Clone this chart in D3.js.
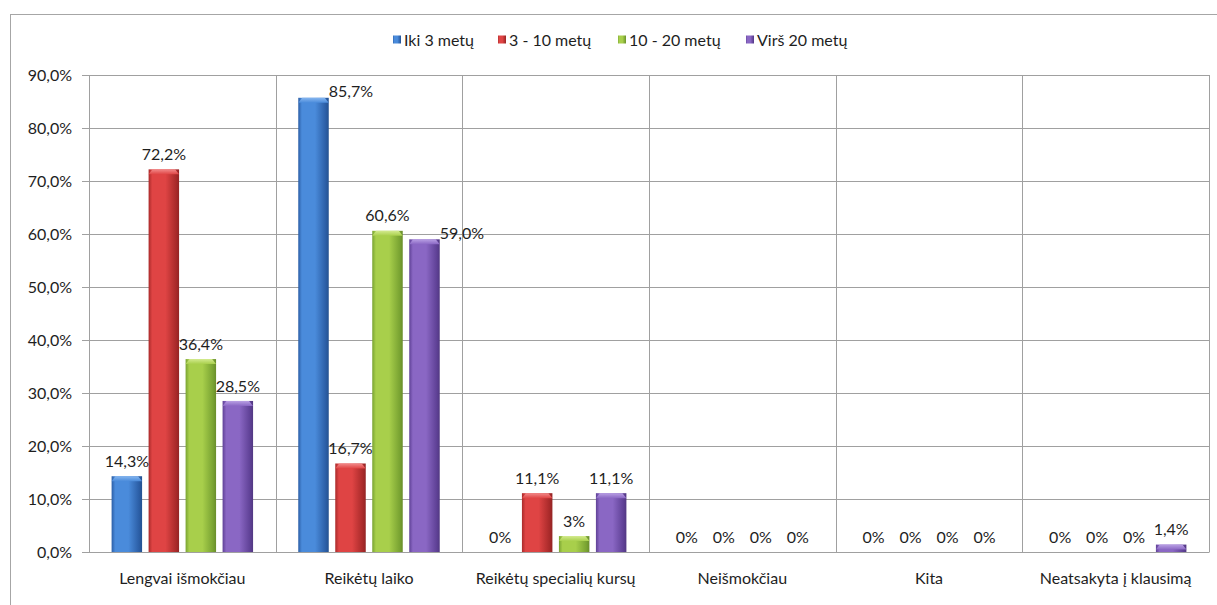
<!DOCTYPE html>
<html>
<head>
<meta charset="utf-8">
<script src="https://cdn.jsdelivr.net/npm/d3@7"></script>
<style>
  body { margin: 0; background: #ffffff; }
  svg { display: block; }
  text { font-family: "Lato", "Open Sans", sans-serif; fill: #1e1e1e; }
</style>
</head>
<body>
<script>
// Survey answers by length of experience (percent, as printed on the labels)
const categories = [
  "Lengvai išmokčiau",
  "Reikėtų laiko",
  "Reikėtų specialių kursų",
  "Neišmokčiau",
  "Kita",
  "Neatsakyta į klausimą"
];
const seriesNames = ["Iki 3 metų", "3 - 10 metų", "10 - 20 metų", "Virš 20 metų"];
const iki3 = ["14,3", "85,7", "0", "0", "0", "0"];
const nuo3iki10 = ["72,2", "16,7", "11,1", "0", "0", "0"];
const nuo10iki20 = ["36,4", "60,6", "3", "0", "0", "0"];
const virs20 = ["28,5", "59,0", "11,1", "0", "0", "1,4"];
const yTicks = [0, 10, 20, 30, 40, 50, 60, 70, 80, 90];

const seriesValues = [iki3, nuo3iki10, nuo10iki20, virs20];
const toNumber = s => +s.replace(",", ".");
const palette = [
  { edge: "#2b5ea6", mid: "#4a8bdb", cap: "#86b6ef" },
  { edge: "#a92a2a", mid: "#df4444", cap: "#f28a8a" },
  { edge: "#79a332", mid: "#a8cf4b", cap: "#d3ea8e" },
  { edge: "#5f4196", mid: "#8a67c4", cap: "#b9a0e4" }
];

const W = 1217, H = 605;
const plot = { left: 89, right: 1209, top: 75, bottom: 552 };
const fontSize = 16;

const svg = d3.select("body").append("svg")
  .attr("width", W).attr("height", H);

// gradients for bars and legend keys
const defs = svg.append("defs");
palette.forEach((c, i) => {
  const g = defs.append("linearGradient").attr("id", "bar" + i)
    .attr("x1", "0").attr("x2", "1").attr("y1", "0").attr("y2", "0");
  g.append("stop").attr("offset", "0").attr("stop-color", c.edge);
  g.append("stop").attr("offset", "0.12").attr("stop-color", c.mid);
  g.append("stop").attr("offset", "0.55").attr("stop-color", c.mid);
  g.append("stop").attr("offset", "0.9").attr("stop-color", c.edge);
  g.append("stop").attr("offset", "1").attr("stop-color", d3.color(c.edge).darker(0.4));
  const k = defs.append("linearGradient").attr("id", "cap" + i)
    .attr("x1", "0").attr("x2", "0").attr("y1", "0").attr("y2", "1");
  k.append("stop").attr("offset", "0").attr("stop-color", c.cap);
  k.append("stop").attr("offset", "1").attr("stop-color", c.mid);
});

// outer chart frame
svg.append("rect")
  .attr("x", 10.5).attr("y", 14.5)
  .attr("width", W + 20).attr("height", H + 20)
  .attr("fill", "none").attr("stroke", "#a6a6a6").attr("stroke-width", 1);

const x0 = d3.scaleBand().domain(categories).range([plot.left, plot.right]).padding(0);
const groupW = x0.bandwidth();
const x1 = d3.scaleBand().domain(seriesNames)
  .range([22.6, groupW - 22.6]).paddingInner(0.176).paddingOuter(0);
const y = d3.scaleLinear().domain([0, 90]).range([plot.bottom, plot.top]);

// horizontal gridlines
svg.append("g")
  .attr("transform", `translate(${plot.left},0)`)
  .call(d3.axisLeft(y).tickValues(yTicks).tickSize(-(plot.right - plot.left)).tickFormat(""))
  .call(g => g.select(".domain").remove())
  .call(g => g.selectAll("line").attr("stroke", "#a0a0a0").attr("shape-rendering", "crispEdges"));

// vertical category dividers
svg.append("g").selectAll("line")
  .data(categories.map(c => x0(c)).concat([plot.right]))
  .join("line")
  .attr("x1", d => Math.round(d) + 0.5).attr("x2", d => Math.round(d) + 0.5)
  .attr("y1", plot.top).attr("y2", plot.bottom)
  .attr("stroke", "#a0a0a0");

// value axis with outside ticks
svg.append("g")
  .attr("transform", `translate(${plot.left},0)`)
  .call(d3.axisLeft(y).tickValues(yTicks).tickSize(7).tickPadding(10)
    .tickFormat(d => d.toFixed(1).replace(".", ",") + "%"))
  .call(g => g.select(".domain").attr("stroke", "#a0a0a0"))
  .call(g => g.selectAll("line").attr("stroke", "#a0a0a0").attr("shape-rendering", "crispEdges"))
  .call(g => g.selectAll("text").style("font-size", fontSize + "px").attr("fill", "#1e1e1e"));

// category axis labels
svg.append("g")
  .attr("transform", `translate(0,${plot.bottom})`)
  .call(d3.axisBottom(x0).tickSize(0).tickPadding(21))
  .call(g => g.select(".domain").attr("stroke", "#a0a0a0"))
  .call(g => g.selectAll("text").style("font-size", fontSize + "px").attr("fill", "#1e1e1e"));

// bars
const rows = [];
categories.forEach((c, ci) => {
  seriesNames.forEach((s, si) => {
    const raw = seriesValues[si][ci];
    rows.push({ c, s, si, raw, v: toNumber(raw) });
  });
});

const bars = svg.append("g").selectAll("g").data(rows).join("g")
  .attr("transform", d => `translate(${x0(d.c) + x1(d.s)},0)`);
const bw = x1.bandwidth();

bars.filter(d => d.v > 0).append("rect")
  .attr("x", 0).attr("width", bw)
  .attr("y", d => y(d.v)).attr("height", d => y(0) - y(d.v))
  .attr("fill", d => `url(#bar${d.si})`);

bars.filter(d => d.v > 0).append("path")
  .attr("d", d => {
    const t = y(d.v), h = Math.min(5, y(0) - y(d.v));
    return `M0,${t + h} L4,${t} L${bw - 4},${t} L${bw},${t + h} Z`;
  })
  .attr("fill", d => `url(#cap${d.si})`);

// value labels, moved beside the bar when they would collide
const labelBoxes = [];
rows.forEach(d => {
  const text = d.raw + "%";
  const top = y(d.v);
  const bx = x0(d.c) + x1(d.s);
  let cx = bx + bw / 2, cy = top - 15, anchor = "middle";
  const w = text.length * 8.5;
  const prev = labelBoxes[labelBoxes.length - 1];
  const hitsTop = cy - 9 < plot.top + 4;
  const hitsPrev = prev && prev.c === d.c &&
    Math.abs(prev.cy - cy) < 16 && (cx - w / 2) < prev.right;
  if (hitsTop || hitsPrev) {
    cx = bx + bw; cy = top - 6; anchor = "start";
  }
  const right = anchor === "start" ? cx + w : cx + w / 2;
  labelBoxes.push({ c: d.c, cx, cy, right, anchor, text });
});

svg.append("g").selectAll("text").data(labelBoxes).join("text")
  .attr("x", d => d.cx).attr("y", d => d.cy)
  .attr("dy", "0.35em")
  .attr("text-anchor", d => d.anchor)
  .style("font-size", fontSize + "px")
  .text(d => d.text);

// legend
const legend = svg.append("g").attr("transform", "translate(0,40)");
const legendX = [393, 498, 618, 746];
seriesNames.forEach((s, i) => {
  const g = legend.append("g").attr("transform", `translate(${legendX[i]},0)`);
  g.append("rect").attr("x", 0).attr("y", -4.5).attr("width", 8).attr("height", 8)
    .attr("fill", `url(#bar${i})`);
  g.append("text").attr("x", 11).attr("y", 0).attr("dy", "0.35em")
    .style("font-size", fontSize + "px").text(s);
});
</script>
</body>
</html>
